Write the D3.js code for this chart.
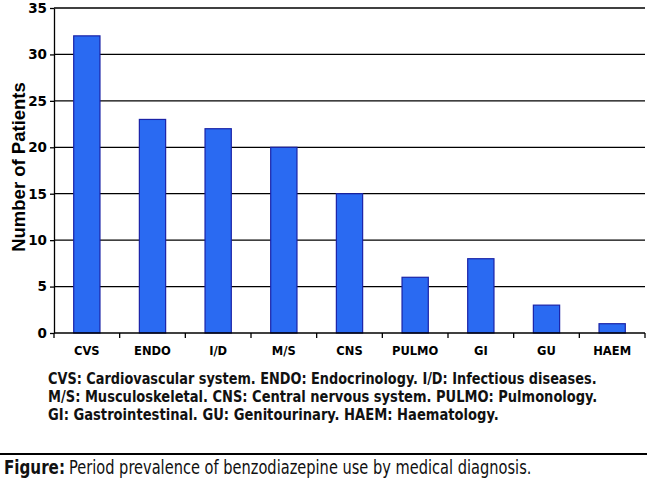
<!DOCTYPE html>
<html>
<head>
<meta charset="utf-8">
<script src="https://cdn.jsdelivr.net/npm/d3@7"></script>
<style>
  body { margin: 0; background: #fff; }
  svg { display: block; }
</style>
</head>
<body>
<div id="chart"></div>
<script>
const categories = ["CVS", "ENDO", "I/D", "M/S", "CNS", "PULMO", "GI", "GU", "HAEM"];
const patients = [32, 23, 22, 20, 15, 6, 8, 3, 1];
const yTicks = [0, 5, 10, 15, 20, 25, 30, 35];
const captionLines = [
  "CVS: Cardiovascular system. ENDO: Endocrinology. I/D: Infectious diseases.",
  "M/S: Musculoskeletal. CNS: Central nervous system. PULMO: Pulmonology.",
  "GI: Gastrointestinal. GU: Genitourinary. HAEM: Haematology."
];
const captionWidths = [549, 550, 451];
const figureLabel = "Figure:";
const figureText = "Period prevalence of benzodiazepine use by medical diagnosis.";

const width = 650;
const height = 484;
const marginLeft = 54;
const marginRight = 5;
const marginTop = 8;
const plotBottom = 333;

const svg = d3.select("#chart")
  .append("svg")
  .attr("width", width)
  .attr("height", height)
  .attr("viewBox", [0, 0, width, height]);

const x = d3.scaleBand()
  .domain(categories)
  .range([marginLeft, width - marginRight])
  .paddingInner(0.6)
  .paddingOuter(0.3);

const xb = d3.scaleBand()
  .domain(categories)
  .range([marginLeft, width - marginRight]);

const y = d3.scaleLinear()
  .domain([0, 35])
  .range([plotBottom, marginTop]);

// squeeze a text horizontally to a given width, anchored at (x0, y0)
function fitText(sel, x0, y0, w) {
  sel.each(function() {
    const natural = this.getComputedTextLength();
    const sx = w / natural;
    d3.select(this)
      .attr("x", 0)
      .attr("y", 0)
      .attr("transform", `translate(${x0},${y0}) scale(${sx},1)`);
  });
}

// gridlines
svg.append("g")
  .attr("stroke", "#000")
  .attr("stroke-width", 1.3)
  .selectAll()
  .data(yTicks.filter(d => d > 0))
  .join("line")
  .attr("x1", marginLeft)
  .attr("x2", width - marginRight)
  .attr("y1", d => y(d))
  .attr("y2", d => y(d));

// bars
svg.append("g")
  .attr("fill", "#2a6af2")
  .attr("stroke", "#1a23a8")
  .attr("stroke-width", 1.2)
  .selectAll()
  .data(patients)
  .join("rect")
  .attr("x", (d, i) => x(categories[i]))
  .attr("y", d => y(d))
  .attr("width", x.bandwidth())
  .attr("height", d => y(0) - y(d));

// y axis
svg.append("g")
  .attr("transform", `translate(${marginLeft},0)`)
  .call(d3.axisLeft(y).tickValues(yTicks).tickSize(4).tickSizeOuter(0).tickPadding(3))
  .call(g => g.selectAll("path, line").attr("stroke", "#000").attr("stroke-width", 1.3))
  .call(g => g.selectAll("text")
    .attr("font-family", "'DejaVu Sans', sans-serif")
    .attr("font-weight", "bold")
    .attr("font-size", 13.5)
    .attr("fill", "#000"));

// x axis with ticks at band boundaries
const xAxis = svg.append("g")
  .attr("transform", `translate(0,${plotBottom})`);

xAxis.append("line")
  .attr("x1", marginLeft)
  .attr("x2", width - marginRight)
  .attr("stroke", "#000")
  .attr("stroke-width", 1.3);

xAxis.selectAll(".tk")
  .data(categories.map(c => xb(c)).concat([width - marginRight]))
  .join("line")
  .attr("class", "tk")
  .attr("x1", d => d)
  .attr("x2", d => d)
  .attr("y1", 0)
  .attr("y2", 5)
  .attr("stroke", "#000")
  .attr("stroke-width", 1.3);

xAxis.selectAll("text")
  .data(categories)
  .join("text")
  .attr("x", d => xb(d) + xb.bandwidth() / 2)
  .attr("y", 22)
  .attr("text-anchor", "middle")
  .attr("font-family", "'DejaVu Sans', sans-serif")
  .attr("font-weight", "bold")
  .attr("font-size", 11.5)
  .text(d => d);

// y axis title
svg.append("text")
  .attr("transform", "translate(25,167) rotate(-90)")
  .attr("text-anchor", "middle")
  .attr("font-family", "'Liberation Sans', Arial, sans-serif")
  .attr("font-weight", "bold")
  .attr("font-size", 18.5)
  .text("Number of Patients");

// caption
const captionFont = "'DejaVu Sans Condensed', 'Liberation Sans Narrow', sans-serif";
svg.append("g")
  .selectAll()
  .data(captionLines)
  .join("text")
  .attr("font-family", captionFont)
  .attr("font-weight", "bold")
  .attr("font-size", 16.5)
  .attr("fill", "#111")
  .text(d => d)
  .each(function(d, i) {
    fitText(d3.select(this), 48, 384 + i * 18, captionWidths[i]);
  });

svg.append("line")
  .attr("x1", 0)
  .attr("x2", 647)
  .attr("y1", 454)
  .attr("y2", 454)
  .attr("stroke", "#000")
  .attr("stroke-width", 2);

svg.append("text")
  .attr("font-family", captionFont)
  .attr("font-weight", "bold")
  .attr("font-size", 19)
  .attr("fill", "#111")
  .text(figureLabel)
  .call(fitText, 4, 474, 61);

svg.append("text")
  .attr("font-family", captionFont)
  .attr("font-size", 19)
  .attr("fill", "#111")
  .text(figureText)
  .call(fitText, 69, 474, 463);
</script>
</body>
</html>
